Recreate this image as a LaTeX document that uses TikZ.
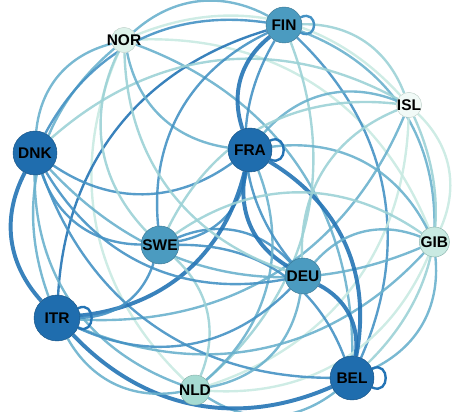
\documentclass[tikz,border=0pt]{standalone}
\usepackage{fontspec}
\setsansfont{Liberation Sans}
\usetikzlibrary{backgrounds}
\definecolor{deep}{HTML}{1F6DAE}
\definecolor{mid}{HTML}{4B9BC0}
\definecolor{pale}{HTML}{A6DBD2}
\definecolor{mint}{HTML}{DDF2EA}
\definecolor{t1}{HTML}{C9EAE2}
\definecolor{t2}{HTML}{9CD2D6}
\definecolor{t3}{HTML}{6AB1CD}
\definecolor{t4}{HTML}{4592C4}
\definecolor{t5}{HTML}{2474B5}
\tikzset{
  every node/.style={font=\sffamily\bfseries\fontsize{11}{11}\selectfont, text=black},
  hub/.style={circle, fill=deep, draw=deep!75!black, line width=0.3pt,
              minimum size=11mm, inner sep=0pt},
  midhub/.style={hub, fill=mid, draw=mid!75!black, minimum size=9mm},
  leaf/.style={hub, fill=pale, draw=pale!80!black, minimum size=7.5mm},
  tinyleaf/.style={hub, fill=mint, draw=mint!85!black, minimum size=6.3mm},
  tie/.style={line width=1.7pt, bend left=35, opacity=0.9},
  heavy/.style={tie, line width=2.8pt},
  selfloop/.style={line width=1.7pt, out=25, in=-25, looseness=1, min distance=5mm},
}

\begin{document}
\begin{tikzpicture}
\useasboundingbox (0,0) rectangle (11.35,10.275);

% countries
\node[midhub, label=center:FIN] (FIN) at (7.10,9.65) {};
\node[tinyleaf, label=center:NOR] (NOR) at (3.10,9.275) {};
\node[tinyleaf, fill=white!60!mint, label=center:ISL] (ISL) at (10.225,7.65) {};
\node[hub, label=center:DNK] (DNK) at (0.875,6.45) {};
\node[hub, label=center:FRA] (FRA) at (6.25,6.525) {};
\node[leaf, fill=t1, label=center:GIB] (GIB) at (10.86,4.225) {};
\node[midhub, minimum size=9.5mm, label=center:SWE] (SWE) at (4.0,4.15) {};
\node[midhub, label=center:DEU] (DEU) at (7.575,3.375) {};
\node[hub, minimum size=11.5mm, label=center:ITR] (ITR) at (1.425,2.325) {};
\node[leaf, label=center:NLD] (NLD) at (4.875,0.525) {};
\node[hub, label=center:BEL] (BEL) at (8.8,0.825) {};

\begin{scope}[on background layer]
% outer ring
\draw[tie, t3] (NOR) to (FIN);
\draw[tie, t1] (NOR) to (ISL);
\draw[tie, t1] (NOR) to (GIB);
\draw[tie, t3] (NOR) to (BEL);
\draw[tie, t1] (NLD) to (NOR);
\draw[tie, t3] (ITR) to (NOR);
\draw[tie, t3] (DNK) to (NOR);
\draw[tie, t2] (FIN) to (ISL);
\draw[tie, t3] (FIN) to (GIB);
\draw[tie, t4] (FIN) to (BEL);
\draw[tie, t2] (FIN) to (NLD);
\draw[tie, t5] (ITR) to (FIN);
\draw[tie, t4] (DNK) to (FIN);
\draw[tie, t1] (ISL) to (GIB);
\draw[tie, t2] (ISL) to (BEL);
\draw[tie, t1] (ISL) to (NLD);
\draw[tie, t3] (ISL) to (ITR);
\draw[tie, t2] (DNK) to (ISL);
\draw[tie, t3] (GIB) to (BEL);
\draw[tie, t1] (GIB) to (NLD);
\draw[tie, t3] (GIB) to (ITR);
\draw[tie, t3] (GIB) to (DNK);
\draw[tie, t3] (BEL) to (NLD);
\draw[heavy, t5] (BEL) to (ITR);
\draw[tie, t4] (BEL) to (DNK);
\draw[tie, t3] (NLD) to (ITR);
\draw[tie, t3] (NLD) to (DNK);
\draw[heavy, t5] (ITR) to (DNK);
% inner ones
\draw[tie, t4] (FRA) to (SWE);
\draw[tie, t4] (SWE) to (DEU);
\draw[heavy, t5] (DEU) to (FRA);
\draw[heavy, t5] (FRA) to (FIN);
\draw[tie, t3] (FRA) to (NOR);
\draw[tie, t3] (FRA) to (ISL);
\draw[tie, t4] (FRA) to (DNK);
\draw[tie, t3] (FRA) to (GIB);
\draw[heavy, t5] (FRA) to (ITR);
\draw[tie, t3] (FRA) to (NLD);
\draw[heavy, t5] (FRA) to (BEL);
\draw[tie, t4] (SWE) to (FIN);
\draw[tie, t2] (SWE) to (NOR);
\draw[tie, t2] (SWE) to (ISL);
\draw[tie, t4] (SWE) to (DNK);
\draw[tie, t2] (SWE) to (GIB);
\draw[tie, t4] (SWE) to (ITR);
\draw[tie, t2] (SWE) to (NLD);
\draw[tie, t4] (SWE) to (BEL);
\draw[tie, t4] (DEU) to (FIN);
\draw[tie, t2] (DEU) to (NOR);
\draw[tie, t2] (DEU) to (ISL);
\draw[tie, t4] (DEU) to (DNK);
\draw[tie, t3] (DEU) to (GIB);
\draw[tie, t4] (DEU) to (ITR);
\draw[tie, t3] (DEU) to (NLD);
\draw[heavy, t5] (DEU) to (BEL);
% self loops
\draw[selfloop, t4] (FIN) to (FIN);
\draw[selfloop, t5] (FRA) to (FRA);
\draw[selfloop, t5] (ITR) to (ITR);
\draw[selfloop, t5] (BEL) to (BEL);
\end{scope}

\end{tikzpicture}
\end{document}
